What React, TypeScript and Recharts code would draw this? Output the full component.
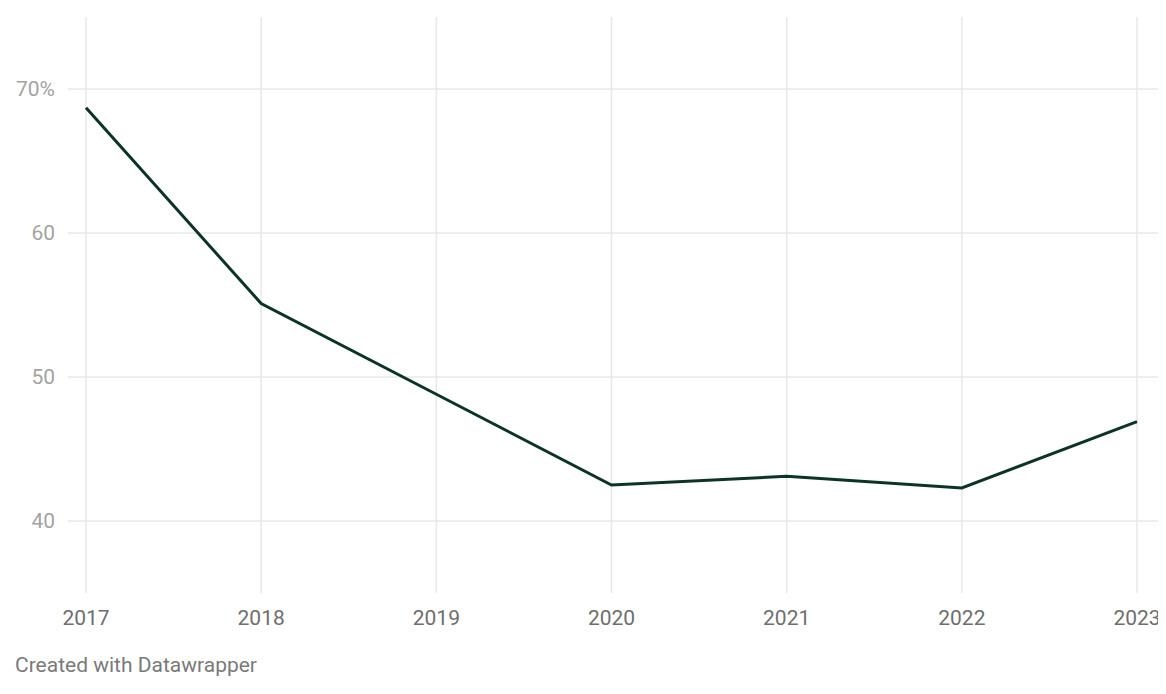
import React from "react";
import { LineChart, Line, XAxis, YAxis, CartesianGrid } from "recharts";

const years = [2017, 2018, 2019, 2020, 2021, 2022, 2023];
const values = [68.7, 55.1, 48.8, 42.5, 43.1, 42.3, 46.9];
const yTicks = [40, 50, 60, 70];

const data = years.map((y, i) => ({ year: y, value: values[i] }));

export default function App() {
  return (
    <div style={{ position: "relative", width: 1158, height: 680, fontFamily: "Roboto, sans-serif" }}>
      <LineChart
        width={1158}
        height={625}
        data={data}
        margin={{ top: 9, right: 6, bottom: 0, left: 0 }}
      >
        <CartesianGrid stroke="#e8e8e8" strokeWidth={1.5} syncWithTicks={true} />
        <XAxis
          dataKey="year"
          type="number"
          domain={[2017, 2023]}
          ticks={years}
          padding={{ left: 18, right: 23 }}
          axisLine={false}
          tickLine={false}
          tickSize={0}
          tickMargin={17}
          height={40}
          interval={0}
          tick={{ fill: "#6e6e6e", fontSize: 21, fontFamily: "Roboto, sans-serif" }}
        />
        <YAxis
          type="number"
          domain={[35, 75]}
          ticks={yTicks}
          width={60}
          axisLine={false}
          tickLine={false}
          tickSize={0}
          tickMargin={13}
          tickFormatter={(v: number) => (v === 70 ? "70%" : String(v))}
          tick={{ fill: "#a3a3a3", fontSize: 21, fontFamily: "Roboto, sans-serif" }}
        />
        <Line
          type="linear"
          dataKey="value"
          stroke="#0c3329"
          strokeWidth={3}
          dot={false}
          isAnimationActive={false}
        />
      </LineChart>
      <div
        style={{
          position: "absolute",
          left: 7,
          top: 645,
          fontSize: 21,
          color: "#7a7a7a",
          fontFamily: "Roboto, sans-serif",
        }}
      >
        Created with Datawrapper
      </div>
    </div>
  );
}
